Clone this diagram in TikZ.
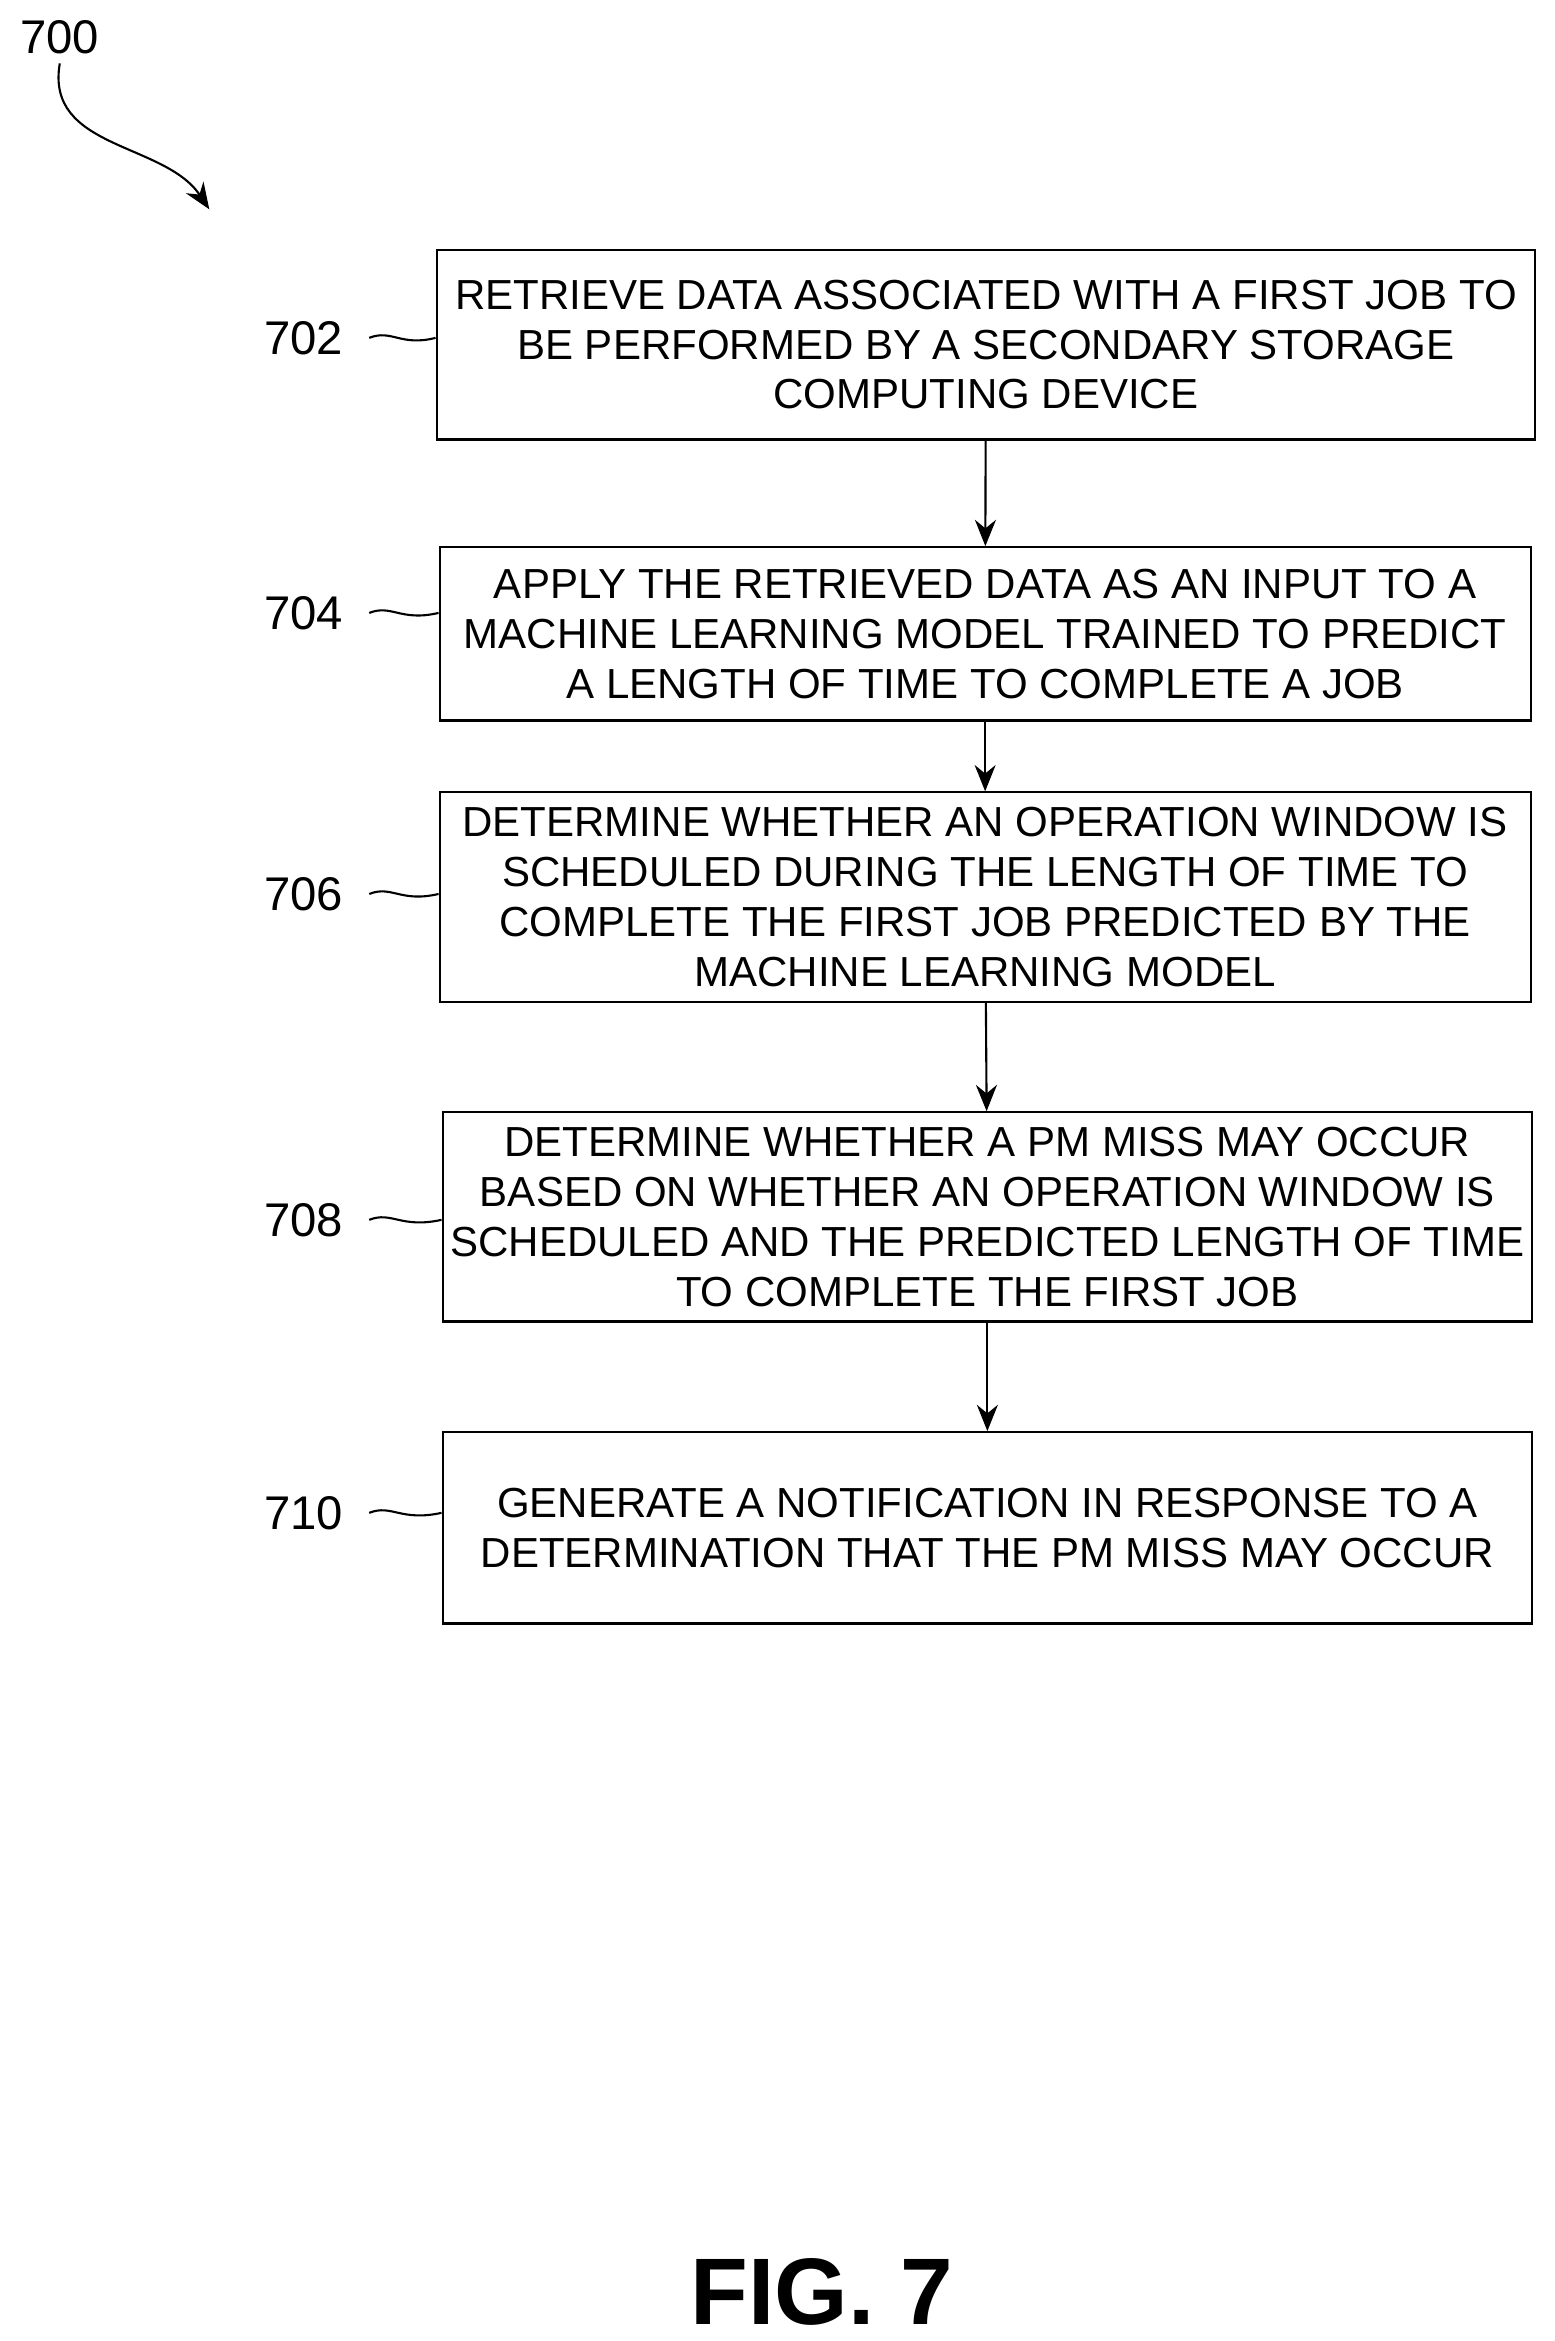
\documentclass[tikz,border=0pt]{standalone}
\usepackage{fontspec}
\setmainfont{Liberation Sans}
\usetikzlibrary{arrows.meta,positioning}

\begin{document}
\begin{tikzpicture}[
    x=0.02cm, y=-0.02cm,
    block/.style={rectangle, draw, thick, align=center, inner sep=0pt,
        font=\fontsize{16}{19}\selectfont},
    lbl/.style={font=\fontsize{18}{20}\selectfont},
    arrow/.style={-{Stealth[length=10pt,width=8pt]}, thick}
]
    \useasboundingbox (0,0) rectangle (1040,1566);
    \node[block, minimum width=14.7cm, minimum height=2.54cm] (s702) at (659.5,230.5)
        {RETRIEVE DATA ASSOCIATED WITH A FIRST JOB TO\\BE PERFORMED BY A SECONDARY STORAGE\\COMPUTING DEVICE};
    \node[block, minimum width=14.6cm, minimum height=2.32cm] (s704) at (659,424)
        {APPLY THE RETRIEVED DATA AS AN INPUT TO A\\MACHINE LEARNING MODEL TRAINED TO PREDICT\\A LENGTH OF TIME TO COMPLETE A JOB};
    \node[block, minimum width=14.6cm, minimum height=2.8cm] (s706) at (659,600)
        {DETERMINE WHETHER AN OPERATION WINDOW IS\\SCHEDULED DURING THE LENGTH OF TIME TO\\COMPLETE THE FIRST JOB PREDICTED BY THE\\MACHINE LEARNING MODEL};
    \node[block, minimum width=14.58cm, minimum height=2.8cm] (s708) at (660.5,814)
        {DETERMINE WHETHER A PM MISS MAY OCCUR\\BASED ON WHETHER AN OPERATION WINDOW IS\\SCHEDULED AND THE PREDICTED LENGTH OF TIME\\TO COMPLETE THE FIRST JOB};
    \node[block, minimum width=14.58cm, minimum height=2.56cm] (s710) at (660.5,1022)
        {GENERATE A NOTIFICATION IN RESPONSE TO A\\DETERMINATION THAT THE PM MISS MAY OCCUR};

    % step labels
    \foreach \n/\y in {702/226, 704/410, 706/598, 708/816, 710/1012} {
        \node[lbl] (l\n) at (203,\y) {\n};
        \draw[thick] (247,\y) .. controls (262,\y-6) and (268,\y+6) .. (s\n.west |- 0,\y);
    }

    \draw[arrow] (s702) -- (s704);
    \draw[arrow] (s704) -- (s706);
    \draw[arrow] (s706) -- (s708);
    \draw[arrow] (s708) -- (s710);

    \node[lbl] (fig) at (40,25) {700};
    \coordinate (tip) at (140,140);
    \draw[arrow] (fig.south) .. controls (30,100) and (110,95) .. (tip);

    \node[font=\bfseries\fontsize{36}{40}\selectfont] (cap) at (550,1533) {FIG. 7};
\end{tikzpicture}
\end{document}
